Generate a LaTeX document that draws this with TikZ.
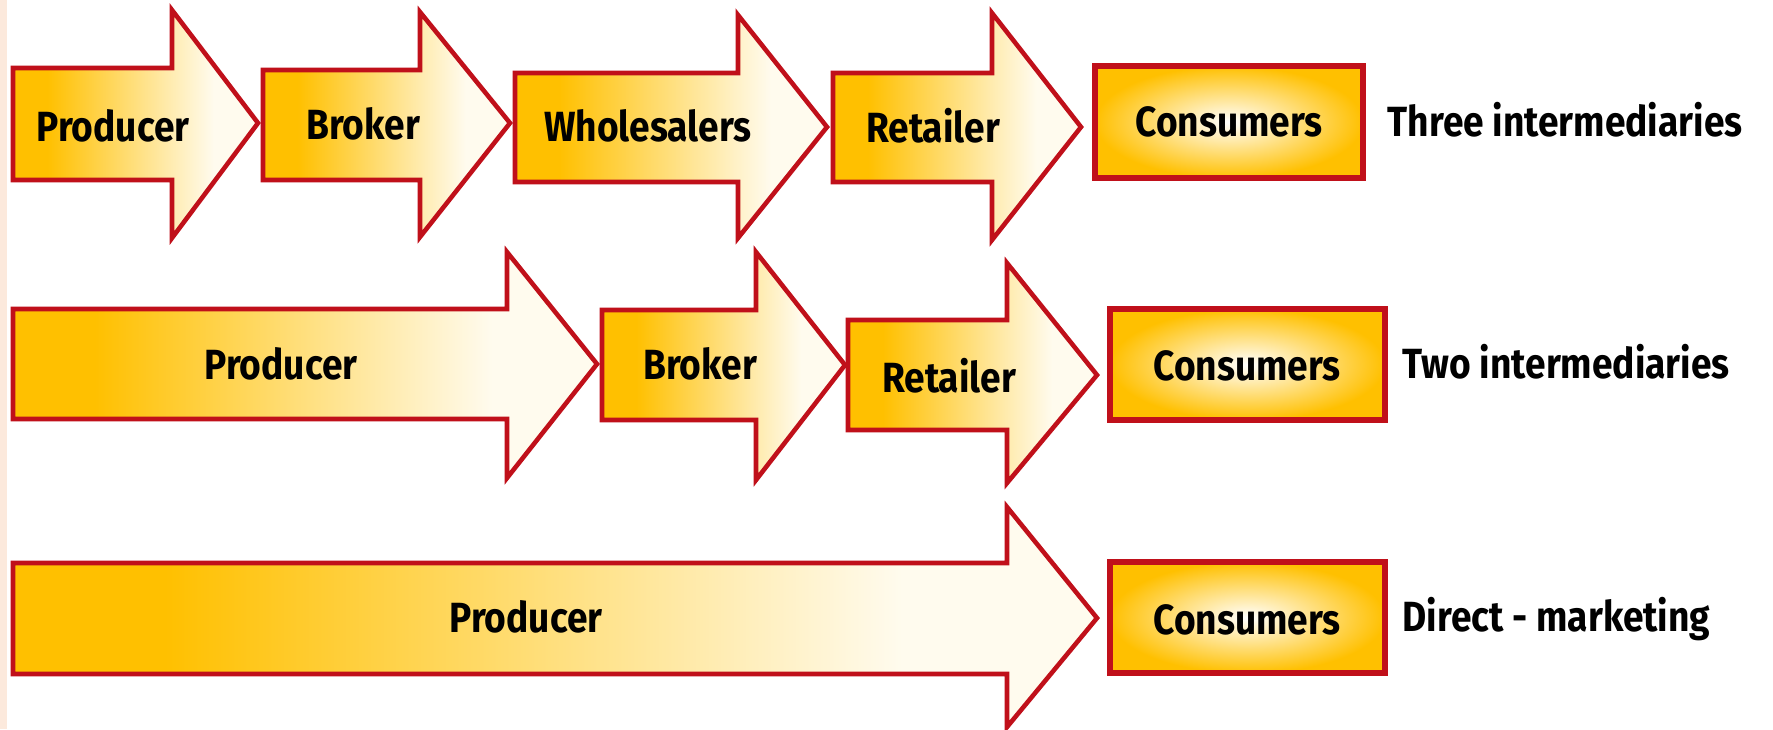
\documentclass[tikz,border=0pt]{standalone}
\usepackage{fontspec}
\setmainfont{Fira Sans}
\usetikzlibrary{shadings}
\definecolor{orangeY}{HTML}{FFC000}
\definecolor{creamY}{HTML}{FFFBEE}
\definecolor{borderR}{HTML}{C0101A}
\definecolor{stripP}{HTML}{FCE9DC}
\pgfdeclarehorizontalshading{arrowfade}{100bp}{color(0bp)=(orangeY); color(25bp)=(orangeY); color(32bp)=(orangeY); color(66bp)=(creamY); color(100bp)=(creamY)}
\newcommand{\narrowtext}[1]{\scalebox{0.88}[1]{#1}}
\tikzset{
  arrowshape/.style={draw=borderR, line width=1.3pt, line join=miter, shading=arrowfade},
  consbox/.style={draw=borderR, line width=1.5pt, inner color=white, outer color=orangeY},
  lbl/.style={font=\fontsize{12}{14}\selectfont\bfseries, text=black, inner sep=0pt, text height=8.3pt, text depth=0pt},
  side/.style={lbl, anchor=west}
}
\newcommand{\flowarrow}[8]{%
  \path[arrowshape] (#1,#2) -- (#4,#2) -- (#4,#5) -- (#7,#8) -- (#4,#6) -- (#4,#3) -- (#1,#3) -- cycle;}
\begin{document}
\begin{tikzpicture}[x=0.01cm, y=-0.01cm]
\useasboundingbox (0,0) rectangle (1773,729);
\fill[white] (0,0) rectangle (1773,729);
\fill[stripP] (0,0) rectangle (7,729);
% row 1
\flowarrow{13}{68}{180}{172}{10}{238}{258}{123}
\flowarrow{263}{70}{180}{420}{12}{237}{510}{123}
\flowarrow{515}{73}{182}{738}{15}{238}{827}{127}
\flowarrow{833}{73}{182}{992}{13}{240}{1081}{127}
\path[consbox] (1095,66) rectangle (1363,178);
\node[lbl] (p1) at (113,127) {\narrowtext{Producer}};
\node[lbl] (b1) at (363,125) {\narrowtext{Broker}};
\node[lbl] (w1) at (648,127) {\narrowtext{Wholesalers}};
\node[lbl] (r1) at (933,128) {\narrowtext{Retailer}};
\node[lbl] (c1) at (1229,122) {\narrowtext{Consumers}};
\node[side] (t1) at (1387,122) {\narrowtext{Three intermediaries}};
% row 2
\flowarrow{13}{309}{419}{507}{252}{478}{597}{364}
\flowarrow{602}{310}{420}{756}{252}{480}{845}{365}
\flowarrow{848}{320}{430}{1007}{263}{483}{1097}{375}
\path[consbox] (1110,309) rectangle (1385,420);
\node[lbl] (p2) at (281,365) {\narrowtext{Producer}};
\node[lbl] (b2) at (700,365) {\narrowtext{Broker}};
\node[lbl] (r2) at (949,378) {\narrowtext{Retailer}};
\node[lbl] (c2) at (1247,366) {\narrowtext{Consumers}};
\node[side] (t2) at (1402,364) {\narrowtext{Two intermediaries}};
% row 3
\flowarrow{13}{563}{674}{1007}{507}{727}{1097}{618}
\path[consbox] (1110,562) rectangle (1385,673);
\node[lbl] (p3) at (526,618) {\narrowtext{Producer}};
\node[lbl] (c3) at (1247,620) {\narrowtext{Consumers}};
\node[side] (t3) at (1402,617) {\narrowtext{Direct - marketing}};
\end{tikzpicture}
\end{document}
